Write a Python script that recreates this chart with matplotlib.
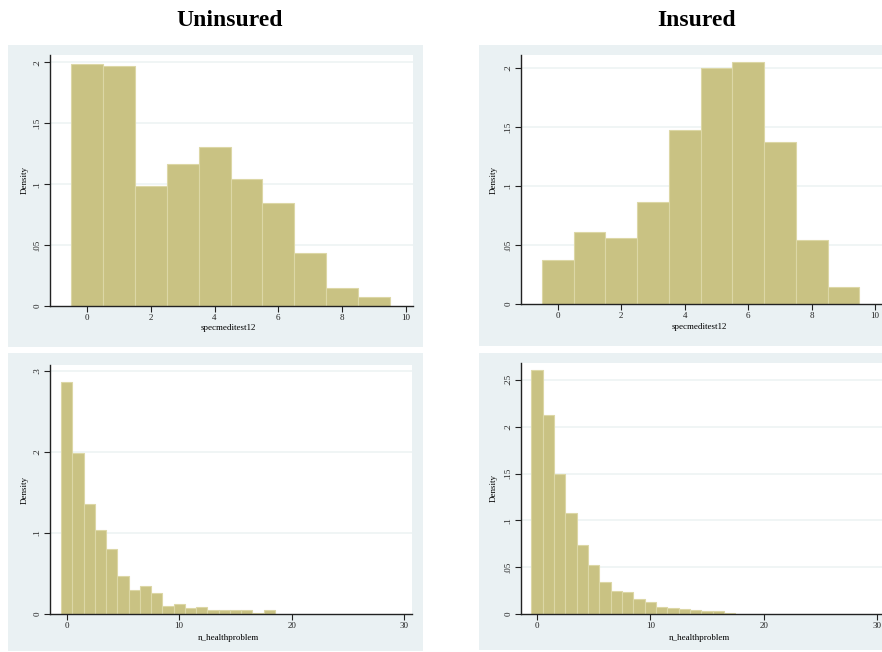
import matplotlib

matplotlib.use("Agg")
from matplotlib import pyplot as plt

# bar heights (density), one bar per integer value starting at 0
uninsured_spec = [0.1986, 0.1967, 0.0981, 0.1167, 0.1309, 0.1046, 0.0847, 0.0437, 0.0150, 0.0077]
insured_spec = [0.0372, 0.0611, 0.0563, 0.0865, 0.1476, 0.1997, 0.2048, 0.1377, 0.0544, 0.0146]
uninsured_health = [0.286, 0.199, 0.136, 0.104, 0.080, 0.047, 0.030, 0.034, 0.026, 0.010,
                    0.012, 0.0074, 0.0087, 0.0045, 0.0045, 0.0045, 0.0045, 0.0015, 0.0045]
insured_health = [0.260, 0.213, 0.150, 0.108, 0.0736, 0.0526, 0.0345, 0.0249, 0.0235, 0.0164,
                  0.0124, 0.0078, 0.0064, 0.0053, 0.0043, 0.0032, 0.0032, 0.0014]

spec_xticks = [0, 2, 4, 6, 8, 10]
health_xticks = [0, 10, 20, 30]
spec_yticks = [0, 0.05, 0.1, 0.15, 0.2]
uninsured_health_yticks = [0, 0.1, 0.2, 0.3]
insured_health_yticks = [0, 0.05, 0.1, 0.15, 0.2, 0.25]

col_titles = ["Uninsured", "Insured"]

W, H = 882, 652
BAR = "#c9c283"
BAR_EDGE = "#dcd7a6"
PANEL_BG = "#eaf1f3"
GRID = "#edf3f4"
SERIF = ["Liberation Serif", "DejaVu Serif"]


def px_rect(x0, y0, x1, y1):
    return [x0 / W, 1 - y1 / H, (x1 - x0) / W, (y1 - y0) / H]


def fmt_tick(v):
    if v == 0:
        return "0"
    s = ("%g" % v)
    return s[1:] if s.startswith("0.") else s


def draw_panel(fig, bg_box, ax_box, heights, xticks, yticks, xlim, ylim, xlabel, ylab_x, xlab_y):
    bg = fig.add_axes(px_rect(*bg_box))
    bg.set_facecolor(PANEL_BG)
    bg.set_xticks([])
    bg.set_yticks([])
    for s in bg.spines.values():
        s.set_visible(False)

    ax = fig.add_axes(px_rect(*ax_box))
    ax.set_facecolor("white")
    ax.bar(range(len(heights)), heights, width=1.0, color=BAR,
           edgecolor=BAR_EDGE, linewidth=0.8, zorder=2)
    ax.set_xlim(*xlim)
    ax.set_ylim(*ylim)
    ax.set_xticks(xticks)
    ax.set_xticklabels([str(t) for t in xticks], fontsize=6.5, family=SERIF)
    ax.set_yticks(yticks)
    ax.set_yticklabels([fmt_tick(t) for t in yticks], fontsize=6.5, family=SERIF,
                       rotation=90, va="center")
    for t in yticks[1:]:
        ax.axhline(t, color=GRID, linewidth=1.2, zorder=1)
    ax.spines["top"].set_visible(False)
    ax.spines["right"].set_visible(False)
    ax.spines["left"].set_color("#222222")
    ax.spines["bottom"].set_color("#222222")
    ax.spines["left"].set_linewidth(1.0)
    ax.spines["bottom"].set_linewidth(1.0)
    ax.tick_params(direction="out", length=4, width=0.8, pad=2, colors="#222222")

    x0, y0, x1, y1 = ax_box
    fig.text(ylab_x / W, 1 - ((y0 + y1) / 2) / H, "Density", rotation=90,
             ha="center", va="center", fontsize=6.5, family=SERIF)
    fig.text(((x0 + x1) / 2 - 3) / W, 1 - xlab_y / H, xlabel,
             ha="center", va="center", fontsize=6.5, family=SERIF)
    return ax


fig = plt.figure(figsize=(W / 100, H / 100), dpi=100)
fig.patch.set_facecolor("white")

draw_panel(fig, (8, 45, 423, 347), (50, 55, 413, 306), uninsured_spec, spec_xticks, spec_yticks,
           (-1.17, 10.23), (0, 0.206), "specmeditest12", 25, 328)
draw_panel(fig, (479, 45, 900, 346), (521, 55, 884, 304), insured_spec, spec_xticks, spec_yticks,
           (-1.16, 10.28), (0, 0.211), "specmeditest12", 494, 327)
draw_panel(fig, (8, 353, 423, 651), (50, 365, 412, 614), uninsured_health, health_xticks,
           uninsured_health_yticks, (-1.48, 30.7), (0, 0.307), "n_healthproblem", 25, 638)
draw_panel(fig, (479, 353, 900, 650), (521, 363, 884, 614), insured_health, health_xticks,
           insured_health_yticks, (-1.41, 30.6), (0, 0.268), "n_healthproblem", 494, 638)

fig.text(230 / W, 1 - 21 / H, col_titles[0], ha="center", va="center",
         fontsize=17, fontweight="bold", family=SERIF)
fig.text(697 / W, 1 - 21 / H, col_titles[1], ha="center", va="center",
         fontsize=17, fontweight="bold", family=SERIF)

fig.savefig("out.png", dpi=100)
